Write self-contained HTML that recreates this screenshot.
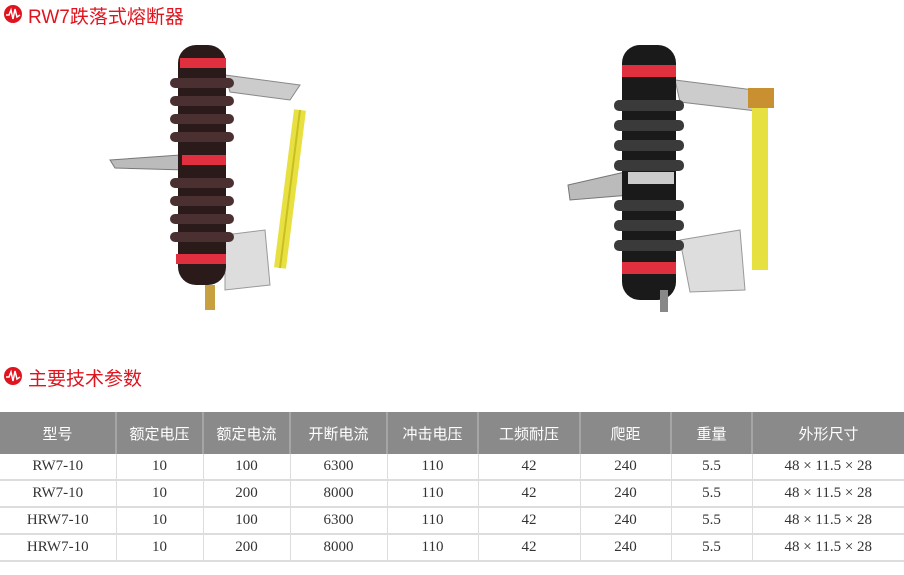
<!DOCTYPE html>
<html><head><meta charset="utf-8"><style>
body{margin:0;width:904px;height:575px;background:#fff;position:relative;overflow:hidden;font-family:"Liberation Sans","Noto Sans CJK SC",sans-serif}
.t{position:absolute;color:#e0141e;font-size:19px;left:28px}
.ic{position:absolute;left:4px;width:18px;height:18px;border-radius:50%;background:#e0141e}
table{position:absolute;left:0;top:412px;width:904px;border-collapse:collapse;table-layout:fixed;font-family:"Liberation Serif","Noto Serif CJK SC",serif;font-size:15px;color:#333}
th{background:#8a8a8a;color:#fff;font-weight:normal;height:42px;padding:0;font-family:"Liberation Sans","Noto Sans CJK SC",sans-serif;font-size:15px;border-left:2px solid #a5a5a5}
td{height:25px;padding:0;line-height:25px;text-align:center;border-left:1px solid #ddd;border-bottom:2px solid #ddd}
th:first-child,td:first-child{border-left:none}
</style></head><body>
<div class="ic" style="top:5px"><svg width="18" height="18"><polyline points="2,10 5,10 7,5 9,14 11,4 13,12 16,10" fill="none" stroke="#fff" stroke-width="1.5"/></svg></div>
<div class="t" style="top:2px">RW7跌落式熔断器</div>
<div class="ic" style="top:367px"><svg width="18" height="18"><polyline points="2,10 5,10 7,5 9,14 11,4 13,12 16,10" fill="none" stroke="#fff" stroke-width="1.5"/></svg></div>
<div class="t" style="top:364px">主要技术参数</div>
<svg style="position:absolute;left:0;top:0" width="904" height="360">
<polygon points="225,75 300,85 290,100 230,92" fill="#ccc" stroke="#888"/>
<polygon points="110,160 180,155 185,170 115,168" fill="#bbb" stroke="#777"/>
<polygon points="225,235 265,230 270,285 225,290" fill="#ddd" stroke="#999"/>
<line x1="300" y1="110" x2="280" y2="268" stroke="#e8e040" stroke-width="12"/>
<line x1="300" y1="110" x2="280" y2="268" stroke="#c8c020" stroke-width="2"/>
<rect x="178" y="45" width="48" height="240" rx="18" fill="#2a1a1a"/>
<g fill="#4a3030"><rect x="170" y="78" width="64" height="10" rx="5"/><rect x="170" y="96" width="64" height="10" rx="5"/><rect x="170" y="114" width="64" height="10" rx="5"/><rect x="170" y="132" width="64" height="10" rx="5"/><rect x="170" y="178" width="64" height="10" rx="5"/><rect x="170" y="196" width="64" height="10" rx="5"/><rect x="170" y="214" width="64" height="10" rx="5"/><rect x="170" y="232" width="64" height="10" rx="5"/></g>
<rect x="180" y="58" width="46" height="10" fill="#e03040"/>
<rect x="182" y="155" width="44" height="10" fill="#e03040"/>
<rect x="176" y="254" width="50" height="10" fill="#e03040"/>
<rect x="205" y="285" width="10" height="25" fill="#c9a040"/>
<polygon points="675,80 770,92 765,112 680,102" fill="#ccc" stroke="#888"/>
<polygon points="568,185 625,172 630,195 570,200" fill="#bbb" stroke="#777"/>
<polygon points="680,240 740,230 745,290 690,292" fill="#ddd" stroke="#999"/>
<rect x="752" y="90" width="16" height="180" fill="#e6e040"/>
<rect x="748" y="88" width="26" height="20" fill="#c89030"/>
<rect x="622" y="45" width="54" height="255" rx="18" fill="#1a1a1a"/>
<g fill="#3a3a3a"><rect x="614" y="100" width="70" height="11" rx="5"/><rect x="614" y="120" width="70" height="11" rx="5"/><rect x="614" y="140" width="70" height="11" rx="5"/><rect x="614" y="160" width="70" height="11" rx="5"/><rect x="614" y="200" width="70" height="11" rx="5"/><rect x="614" y="220" width="70" height="11" rx="5"/><rect x="614" y="240" width="70" height="11" rx="5"/></g>
<rect x="622" y="65" width="54" height="12" fill="#e03040"/>
<rect x="628" y="172" width="46" height="12" fill="#ccc"/>
<rect x="622" y="262" width="54" height="12" fill="#e03040"/>
<rect x="660" y="290" width="8" height="22" fill="#888"/>
</svg>
<table>
<colgroup><col style="width:116px"><col style="width:87px"><col style="width:87px"><col style="width:97px"><col style="width:91px"><col style="width:102px"><col style="width:91px"><col style="width:81px"><col style="width:152px"></colgroup>
<tr><th>型号</th><th>额定电压</th><th>额定电流</th><th>开断电流</th><th>冲击电压</th><th>工频耐压</th><th>爬距</th><th>重量</th><th>外形尺寸</th></tr>
<tr><td>RW7-10</td><td>10</td><td>100</td><td>6300</td><td>110</td><td>42</td><td>240</td><td>5.5</td><td>48 × 11.5 × 28</td></tr>
<tr><td>RW7-10</td><td>10</td><td>200</td><td>8000</td><td>110</td><td>42</td><td>240</td><td>5.5</td><td>48 × 11.5 × 28</td></tr>
<tr><td>HRW7-10</td><td>10</td><td>100</td><td>6300</td><td>110</td><td>42</td><td>240</td><td>5.5</td><td>48 × 11.5 × 28</td></tr>
<tr><td>HRW7-10</td><td>10</td><td>200</td><td>8000</td><td>110</td><td>42</td><td>240</td><td>5.5</td><td>48 × 11.5 × 28</td></tr>
</table>
</body></html>
